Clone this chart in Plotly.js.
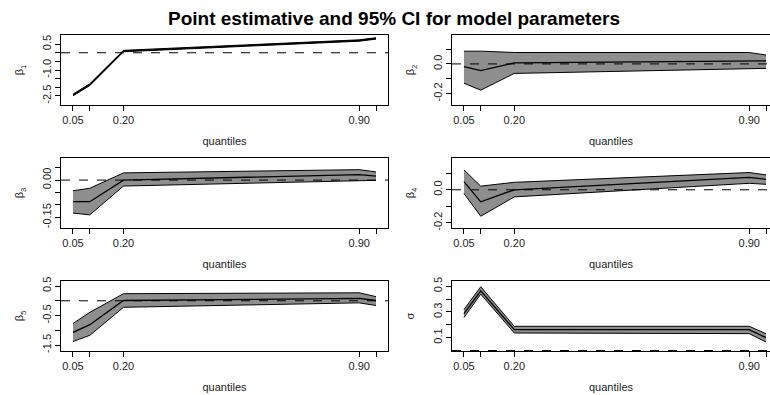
<!DOCTYPE html>
<html>
<head>
<meta charset="utf-8">
<script src="https://cdn.plot.ly/plotly-3.0.1.min.js"></script>
<style>html,body{margin:0;padding:0;background:#fff;}#chart{width:770px;height:395px;}</style>
</head>
<body>
<div id="chart"></div>
<script>
// quantiles
const quantiles = [0.05, 0.10, 0.20, 0.90, 0.95];
const xTickVals = [0.05, 0.20, 0.90];
const xTickText = ["0.05", "0.20", "0.90"];
const xMinorTicks = [0.10, 0.95];

// beta1
const b1Est = [-2.45, -1.85, 0.10, 0.71, 0.83];
const b1Low = [-2.50, -1.90, 0.06, 0.67, 0.79];
const b1Up  = [-2.40, -1.80, 0.14, 0.75, 0.87];
// beta2
const b2Est = [-0.018, -0.045, 0.007, 0.018, 0.020];
const b2Low = [-0.130, -0.177, -0.064, -0.030, -0.030];
const b2Up  = [0.086, 0.086, 0.077, 0.077, 0.060];
// beta3
const b3Est = [-0.087, -0.087, 0.000, 0.022, 0.016];
const b3Low = [-0.133, -0.140, -0.024, 0.000, -0.001];
const b3Up  = [-0.043, -0.033, 0.029, 0.042, 0.033];
// beta4
const b4Est = [0.049, -0.073, 0.000, 0.075, 0.063];
const b4Low = [-0.022, -0.160, -0.043, 0.039, 0.033];
const b4Up  = [0.120, 0.022, 0.045, 0.104, 0.090];
// beta5
const b5Est = [-1.07, -0.81, 0.01, 0.08, 0.01];
const b5Low = [-1.38, -1.17, -0.22, -0.07, -0.16];
const b5Up  = [-0.77, -0.39, 0.24, 0.27, 0.14];
// sigma
const sEst = [0.287, 0.464, 0.162, 0.162, 0.100];
const sLow = [0.256, 0.438, 0.136, 0.131, 0.066];
const sUp  = [0.318, 0.495, 0.188, 0.188, 0.130];

const panelNames = ["β<sub>1</sub>", "β<sub>2</sub>", "β<sub>3</sub>", "β<sub>4</sub>", "β<sub>5</sub>", "σ"];
const panelData = [
  [b1Est, b1Low, b1Up], [b2Est, b2Low, b2Up], [b3Est, b3Low, b3Up],
  [b4Est, b4Low, b4Up], [b5Est, b5Low, b5Up], [sEst, sLow, sUp]
];
const yRanges = [[-3.03, 1.03], [-0.277, 0.195], [-0.193, 0.089], [-0.231, 0.192], [-1.70, 0.67], [-0.004, 0.54]];
// labelled y ticks
const yTickVals = [
  [0.5, -1.0, -2.5],
  [0, -0.2],
  [0, -0.15],
  [0, -0.2],
  [0.5, -0.5, -1.5],
  [0.5, 0.3, 0.1]
];
const yTickText = [
  ["0.5", "-1.0", "-2.5"],
  ["0.0", "-0.2"],
  ["0.00", "-0.15"],
  ["0.0", "-0.2"],
  ["0.5", "-0.5", "-1.5"],
  ["0.5", "0.3", "0.1"]
];
// unlabelled y ticks
const yMinorTicks = [
  [0, -0.5, -1.5, -2.0],
  [0.1, -0.1],
  [0.05, -0.05, -0.10],
  [0.1, -0.1],
  [0, -1.0],
  [0.4, 0.2]
];

const W = 770, H = 395;
const colPx = [[61, 388], [452, 770]];
const rowPx = [[35, 105], [158, 228], [281, 351]];
const xRanges = [[0.0144, 0.9856], [0.0144, 0.9619]];

const traces = [];
const layout = {
  width: W, height: H,
  margin: {l: 0, r: 0, t: 0, b: 0},
  paper_bgcolor: "#fff", plot_bgcolor: "#fff",
  showlegend: false,
  font: {family: "Liberation Sans, Arial, sans-serif", size: 11, color: "#000"},
  title: {text: "<b>Point estimative and 95% CI for model parameters</b>",
          font: {size: 19, color: "#000", family: "Liberation Sans, Arial, sans-serif"},
          x: 394 / W, xanchor: "center", y: 1 - 18 / H, yanchor: "middle", yref: "container"},
  shapes: []
};

for (let i = 0; i < 6; i++) {
  const col = i % 2, row = Math.floor(i / 2);
  const s = i === 0 ? "" : String(i + 1);
  const xa = "x" + s, ya = "y" + s;
  const [est, low, up] = panelData[i];
  traces.push({x: quantiles, y: low, xaxis: xa, yaxis: ya, mode: "lines",
               line: {color: "#000", width: 1}, hoverinfo: "skip"});
  traces.push({x: quantiles, y: up, xaxis: xa, yaxis: ya, mode: "lines", fill: "tonexty",
               fillcolor: "#8e8e8e", line: {color: "#000", width: 1}, hoverinfo: "skip"});
  traces.push({x: quantiles, y: est, xaxis: xa, yaxis: ya, mode: "lines",
               line: {color: "#000", width: 1.3}});
  layout["xaxis" + s] = {
    domain: [colPx[col][0] / W, colPx[col][1] / W],
    range: xRanges[col], anchor: ya,
    tickmode: "array", tickvals: xTickVals, ticktext: xTickText,
    ticks: "outside", ticklen: 5, tickwidth: 1, tickcolor: "#000",
    minor: {tickmode: "array", tickvals: xMinorTicks, ticks: "outside", ticklen: 5,
            tickwidth: 1, tickcolor: "#000", showgrid: false},
    showline: true, mirror: true, linecolor: "#000", linewidth: 1,
    showgrid: false, zeroline: false,
    tickfont: {size: 11, color: "#222"},
    title: {text: "quantiles", font: {size: 11, color: "#222"}, standoff: 12},
    automargin: false
  };
  layout["yaxis" + s] = {
    domain: [1 - rowPx[row][1] / H, 1 - rowPx[row][0] / H],
    range: yRanges[i], anchor: xa,
    tickmode: "array", tickvals: yTickVals[i], ticktext: yTickText[i], tickangle: -90,
    ticks: "outside", ticklen: 5, tickwidth: 1, tickcolor: "#000",
    minor: {tickmode: "array", tickvals: yMinorTicks[i], ticks: "outside", ticklen: 5,
            tickwidth: 1, tickcolor: "#000", showgrid: false},
    showline: true, mirror: true, linecolor: "#000", linewidth: 1,
    showgrid: false, zeroline: false,
    tickfont: {size: 11, color: "#222"},
    title: {text: panelNames[i], font: {size: 11, color: "#222"}, standoff: 14},
    automargin: false
  };
  layout.shapes.push({type: "line", xref: xa + " domain", yref: ya, x0: 0, x1: 1, y0: 0, y1: 0,
                      line: {color: "#000", width: 1, dash: "dash"}});
}

Plotly.newPlot("chart", traces, layout, {staticPlot: true, displayModeBar: false});
</script>
</body>
</html>
